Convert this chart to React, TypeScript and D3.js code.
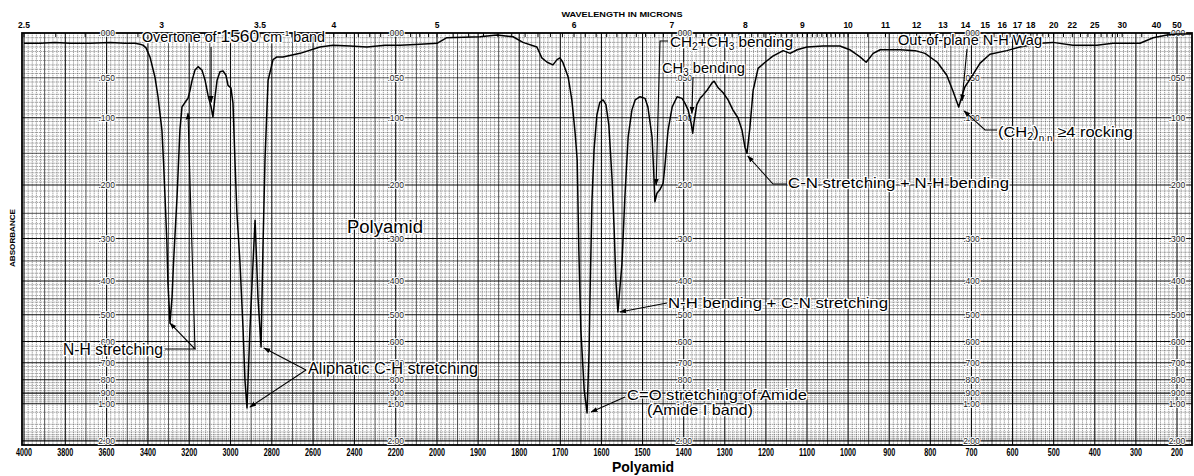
import React from 'react';
import * as d3 from 'd3';

// ---- spectrum data (wavenumber cm-1, absorbance) ----
const wavenumbers = [
  4000, 3923, 3850, 3777, 3680, 3584, 3511, 3462, 3438, 3424, 3409, 3390, 3366, 3351, 3332, 3324, 3317, 3308, 3303, 3293,
  3283, 3276, 3259, 3245, 3235, 3220, 3206, 3196, 3186, 3172, 3157, 3138, 3123, 3109, 3094, 3085, 3075, 3065, 3051, 3036,
  3022, 3012, 2998, 2988, 2978, 2969, 2954, 2939, 2930, 2920, 2906, 2891, 2881, 2867, 2852, 2843, 2833, 2818, 2794, 2775,
  2746, 2663, 2567, 2504, 2421, 2339, 2252, 2179, 2082, 2000,
  1976, 1895, 1854, 1815, 1791, 1757, 1745, 1732, 1718, 1708, 1701, 1694, 1681, 1672, 1664, 1659, 1655, 1650, 1642, 1635,
  1630, 1628, 1623, 1618, 1611, 1604, 1596, 1589, 1582, 1574, 1569, 1565, 1560, 1550, 1543, 1535, 1526, 1518, 1506, 1494,
  1487, 1477, 1473, 1470, 1465, 1458, 1450, 1445, 1438, 1428, 1416, 1404, 1397, 1389, 1382, 1378, 1375, 1368, 1360, 1353,
  1343, 1331, 1326, 1316, 1304, 1292, 1280, 1268, 1258, 1251, 1246, 1239, 1231, 1219, 1202, 1183, 1158, 1141, 1124, 1100,
  1061, 1020, 996, 971, 956, 939, 922, 873, 837, 813, 783, 760, 745, 731, 723, 716, 696, 679, 655, 614,
  582, 533, 502, 453, 395, 356, 290, 258, 224, 200, 165,
];
const absorbance = [
  0.011, 0.011, 0.010, 0.011, 0.011, 0.010, 0.011, 0.011, 0.012, 0.013, 0.016, 0.026, 0.049, 0.073, 0.117, 0.165, 0.221, 0.309, 0.405, 0.529,
  0.445, 0.355, 0.221, 0.117, 0.086, 0.080, 0.075, 0.065, 0.053, 0.041, 0.037, 0.041, 0.053, 0.071, 0.086, 0.099, 0.073, 0.053, 0.043, 0.042,
  0.047, 0.059, 0.062, 0.081, 0.165, 0.249, 0.355, 0.554, 0.802, 1.047, 0.554, 0.355, 0.263, 0.445, 0.624, 0.325, 0.160, 0.053, 0.029, 0.026,
  0.026, 0.022, 0.015, 0.013, 0.014, 0.015, 0.013, 0.013, 0.012, 0.011,
  0.005, 0.004, 0.002, 0.004, 0.010, 0.015, 0.027, 0.032, 0.035, 0.029, 0.027, 0.032, 0.049, 0.077, 0.121, 0.160, 0.325, 0.554, 0.875, 1.110,
  0.637, 0.454, 0.226, 0.145, 0.096, 0.080, 0.077, 0.083, 0.110, 0.192, 0.283, 0.397, 0.491, 0.355, 0.221, 0.126, 0.090, 0.077, 0.073, 0.075,
  0.086, 0.126, 0.176, 0.229, 0.214, 0.208, 0.197, 0.165, 0.117, 0.086, 0.073, 0.075, 0.081, 0.090, 0.107, 0.121, 0.107, 0.083, 0.075, 0.071,
  0.065, 0.056, 0.054, 0.062, 0.068, 0.077, 0.090, 0.100, 0.117, 0.141, 0.150, 0.114, 0.065, 0.039, 0.032, 0.025, 0.019, 0.022, 0.018, 0.015,
  0.014, 0.014, 0.018, 0.026, 0.032, 0.022, 0.018, 0.018, 0.019, 0.022, 0.032, 0.047, 0.066, 0.086, 0.072, 0.061, 0.046, 0.033, 0.023, 0.019,
  0.015, 0.011, 0.010, 0.013, 0.013, 0.011, 0.011, 0.005, 0.002, 0.001, 0.001,
];

// ---- axis labels ----
const bottomTicks = [4000, 3800, 3600, 3400, 3200, 3000, 2800, 2600, 2400, 2200, 2000, 1900, 1800, 1700, 1600, 1500, 1400,
  1300, 1200, 1100, 1000, 900, 800, 700, 600, 500, 400, 300, 200];
const micronTicks = [2.5, 3, 3.5, 4, 5, 6, 7, 8, 9, 10, 11, 12, 13, 14, 15, 16, 17, 18, 20, 22, 25, 30, 40, 50];
const absTickValues = [0, 0.05, 0.1, 0.2, 0.3, 0.4, 0.5, 0.6, 0.7, 0.8, 0.9, 1.0, 2.0];
const absTickLabels = ['.000', '.050', '.100', '.200', '.300', '.400', '.500', '.600', '.700', '.800', '.900', '1.00', '2.00'];
const absLabelColumns = [3600, 2200, 1400, 700, 200];

const FONT = '"Liberation Sans", Arial, sans-serif';

export default function App() {
  const W = 1194, H = 476;
  const top = 33, bottom = 445, left = 22, right = 1192;
  const x = d3.scaleLinear().domain([4000, 2000, 200]).range([24, 437, 1177]);
  const tScale = d3.scaleLinear().domain([1, 0]).range([top, bottom]);
  const y = (a: number) => tScale(Math.pow(10, -a));

  // vertical grid
  const vLines: { v: number; k: number }[] = [];
  for (let v = 4000; v >= 2000; v -= 20) vLines.push({ v, k: v % 200 === 0 ? 2 : v % 100 === 0 ? 1 : 0 });
  for (let v = 1990; v >= 170; v -= 10) vLines.push({ v, k: v % 100 === 0 ? 2 : v % 50 === 0 ? 1 : 0 });

  // horizontal grid (in thousandths of absorbance)
  const hSet: number[] = [];
  for (let m = 5; m <= 200; m += 5) hSet.push(m);
  for (let m = 210; m <= 500; m += 10) hSet.push(m);
  for (let m = 520; m <= 1000; m += 20) hSet.push(m);
  for (let m = 1100; m <= 2000; m += 100) hSet.push(m);
  const hLines = hSet.map((m) => ({
    a: m / 1000,
    k: (m <= 1000 && m % 100 === 0) || m === 2000 ? 2 : m < 1000 && m % 50 === 0 ? 1 : 0,
  }));

  // top micron minor ticks
  const micronMinor: number[] = [];
  for (let i = 25; i <= 100; i++) micronMinor.push(i / 10);
  for (let i = 21; i <= 40; i++) micronMinor.push(i / 2);
  for (let i = 21; i <= 30; i++) micronMinor.push(i);
  micronMinor.push(35, 40, 45, 50);

  const line = d3
    .line<number>()
    .x((_, i) => x(wavenumbers[i]))
    .y((_, i) => y(absorbance[i]))
    .curve(d3.curveLinear);
  const pathD = line(absorbance) || '';

  const gridStyle = (k: number) =>
    k === 2
      ? { stroke: '#000', strokeWidth: 1.1, opacity: 0.95 }
      : k === 1
      ? { stroke: '#111', strokeWidth: 0.9, opacity: 0.8 }
      : { stroke: '#222', strokeWidth: 0.8, opacity: 0.55, strokeDasharray: '1.3 0.8' };

  const P = (v: number, a: number) => `${x(v)},${y(a)}`;

  const annText = { fontFamily: FONT, fill: '#000', lengthAdjust: 'spacingAndGlyphs' as const };
  const halo = { paintOrder: 'stroke' as const, stroke: '#fff', strokeWidth: 2.5, strokeLinejoin: 'round' as const };

  return (
    <svg width={W} height={H} style={{ position: 'absolute', left: 0, top: 0, background: '#fff' }}>
      <defs>
        <marker id="ah" viewBox="0 0 10 10" refX="9" refY="5" markerWidth="7" markerHeight="7" orient="auto" markerUnits="userSpaceOnUse">
          <path d="M0,1.5 L10,5 L0,8.5 Z" fill="#000" />
        </marker>
      </defs>
      <rect x={0} y={0} width={W} height={H} fill="#fff" />

      {/* grid */}
      <g>
        {vLines.map((d, i) => (
          <line key={'v' + i} x1={x(d.v)} x2={x(d.v)} y1={top} y2={bottom} {...gridStyle(d.k)} />
        ))}
        {hLines.map((d, i) => (
          <line key={'h' + i} x1={left} x2={right} y1={y(d.a)} y2={y(d.a)} {...gridStyle(d.k)} />
        ))}
      </g>

      {/* frame */}
      <rect x={left} y={top} width={right - left} height={bottom - top} fill="none" stroke="#000" strokeWidth={1.8} />

      {/* micron minor ticks */}
      {micronMinor.map((m, i) => (
        <line key={'mm' + i} x1={x(10000 / m)} x2={x(10000 / m)} y1={top} y2={top + 4} stroke="#000" strokeWidth={1} />
      ))}

      {/* absorbance labels inside plot */}
      {absLabelColumns.map((c) =>
        absTickValues.map((a, i) => (
          <text key={'al' + c + i} x={x(c)} y={y(a) + 3} textAnchor="middle" fontFamily={FONT} fontSize={8.5} fill="#222" {...halo} strokeWidth={2}>
            {absTickLabels[i]}
          </text>
        ))
      )}

      {/* spectrum */}
      <path d={pathD} fill="none" stroke="#000" strokeWidth={1.5} strokeLinejoin="round" />

      {/* top axis */}
      <text x={622} y={17} textAnchor="middle" fontFamily={FONT} fontWeight="bold" fontSize={7.5} textLength={121} lengthAdjust="spacingAndGlyphs">
        WAVELENGTH IN MICRONS
      </text>
      {micronTicks.map((m, i) => (
        <text key={'mt' + i} x={x(10000 / m)} y={28} textAnchor="middle" fontFamily={FONT} fontWeight="bold" fontSize={8.5}>
          {m}
        </text>
      ))}

      {/* bottom axis */}
      {bottomTicks.map((v, i) => (
        <text key={'bt' + i} x={x(v)} y={456} textAnchor="middle" fontFamily={FONT} fontWeight="bold" fontSize={10}
          textLength={String(v).length * 4} lengthAdjust="spacingAndGlyphs">
          {v}
        </text>
      ))}
      <text x={643} y={472} textAnchor="middle" fontFamily={FONT} fontWeight="bold" fontSize={14}>Polyamid</text>

      {/* y axis title */}
      <text transform="translate(15,238) rotate(-90)" textAnchor="middle" fontFamily={FONT} fontWeight="bold" fontSize={7.5}
        textLength={58} lengthAdjust="spacingAndGlyphs">ABSORBANCE</text>

      {/* annotations */}
      <g fill="none" stroke="#000" strokeWidth={1.1}>
        <path d={`M${x(3094)},47 L${P(3094, 0.08)}`} markerEnd="url(#ah)" />
        <path d={`M165,349 L195,349 L${P(3293, 0.529)}`} markerEnd="url(#ah)" />
        <path d={`M195,349 L${P(3206, 0.094)}`} markerEnd="url(#ah)" />
        <path d={`M306,370 L${P(2906, 1.035)}`} markerEnd="url(#ah)" />
        <path d={`M306,370 L${P(2838, 0.628)}`} markerEnd="url(#ah)" />
        <path d={`M668,41 L660,41 L${P(1467, 0.2)}`} markerEnd="url(#ah)" />
        <path d={`M693,77 L${P(1380, 0.094)}`} markerEnd="url(#ah)" />
        <path d={`M787,184 L773,184 L${P(1244, 0.154)}`} markerEnd="url(#ah)" />
        <path d={`M667,303 L${P(1555, 0.491)}`} markerEnd="url(#ah)" />
        <path d={`M625,397 L${P(1625, 1.096)}`} markerEnd="url(#ah)" />
        <path d={`M967,49 L${P(723, 0.078)}`} markerEnd="url(#ah)" />
        <path d={`M997,130 L985,130 L${P(718, 0.091)}`} markerEnd="url(#ah)" />
      </g>

      <g {...annText}>
        <text x={142} y={42} fontSize={14} textLength={183} {...annText} {...halo}>
          Overtone of <tspan fontSize={17}>1560</tspan> cm<tspan dy={-6} fontSize={8}>-1</tspan><tspan dy={6}> band</tspan>
        </text>
        <text x={63} y={355} fontSize={16} textLength={100} {...annText} {...halo}>N-H stretching</text>
        <text x={308} y={374} fontSize={16} textLength={170} {...annText} {...halo}>Aliphatic C-H stretching</text>
        <text x={347} y={233} fontSize={18} textLength={76} {...annText} {...halo}>Polyamid</text>
        <text x={670} y={47} fontSize={15} textLength={123} {...annText} {...halo}>
          CH<tspan dy={3} fontSize={10}>2</tspan><tspan dy={-3}>+CH</tspan><tspan dy={3} fontSize={10}>3</tspan><tspan dy={-3}> bending</tspan>
        </text>
        <text x={662} y={73} fontSize={15} textLength={83} {...annText} {...halo}>
          CH<tspan dy={3} fontSize={10}>3</tspan><tspan dy={-3}> bending</tspan>
        </text>
        <text x={788} y={188} fontSize={14.5} textLength={221} {...annText} {...halo}>C-N stretching + N-H bending</text>
        <text x={668} y={308} fontSize={14.5} textLength={220} {...annText} {...halo}>N-H bending + C-N stretching</text>
        <text x={627} y={400} fontSize={15} textLength={180} {...annText} {...halo}>C=O stretching of Amide</text>
        <text x={647} y={415} fontSize={15} textLength={106} {...annText} {...halo}>(Amide I band)</text>
        <text x={898} y={45} fontSize={15} textLength={144} {...annText} {...halo}>Out-of-plane N-H Wag</text>
        <text x={998} y={137} fontSize={15} textLength={135} {...annText} {...halo}>
          (CH<tspan dy={3} fontSize={10}>2</tspan><tspan dy={-3}>)</tspan><tspan dy={4} fontSize={9}>n</tspan><tspan dy={0} fontSize={9}>  n</tspan><tspan dy={-4}> ≥4 rocking</tspan>
        </text>
      </g>
    </svg>
  );
}
